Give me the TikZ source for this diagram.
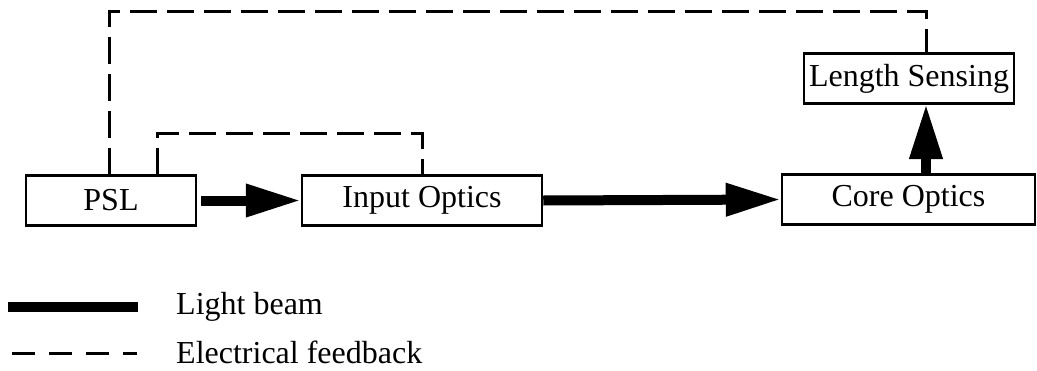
\documentclass[tikz,border=0pt]{standalone}
\usepackage{fontspec}
\setmainfont{Liberation Serif}
\usetikzlibrary{arrows.meta}
\begin{document}
\begin{tikzpicture}[x=1pt,y=-1pt,
  blk/.style={draw,line width=2.5pt,minimum height=50pt,inner sep=0pt,font=\fontsize{32}{36}\selectfont},
  beam/.style={line width=10pt,-{Triangle[length=55pt,width=31pt]}},
  fb/.style={line width=3pt,dash pattern=on 27pt off 10pt},
  lbl/.style={anchor=west,inner sep=0pt,font=\fontsize{32}{36}\selectfont}]
\useasboundingbox (0,0) rectangle (1037,370);
\node[blk,minimum width=170pt] (psl) at (111,200.5) {PSL};
\node[blk,minimum width=240pt] (io) at (422,200.5) {Input Optics};
\node[blk,minimum width=253pt] (co) at (908.5,199.5) {Core Optics};
\node[blk,minimum width=210pt] (ls) at (909,78.5) {Length Sensing};
% light beams
\draw[beam,shorten <=4pt] (psl.east) -- (io.west);
\draw[beam] (io.east) -- (co.west);
\coordinate (upb) at (926,175);
\coordinate (upt) at (926,104);
\draw[beam] (upb) -- (upt);
% electrical feedback
\coordinate (a1) at (109,175);
\coordinate (a2) at (926,53);
\draw[fb] (a1) |- (109,11) -| (a2);
\coordinate (b1) at (157,175);
\coordinate (b2) at (422,176);
\draw[fb] (b1) |- (157,133) -| (b2);
% legend
\coordinate (l1) at (8,307);
\coordinate (l2) at (138,307);
\draw[line width=10pt] (l1) -- (l2);
\node[lbl] (lt1) at (176,307) {Light beam};
\coordinate (d1) at (12,353);
\coordinate (d2) at (137,353);
\draw[line width=3pt,dash pattern=on 23pt off 14pt] (d1) -- (d2);
\node[lbl] (lt2) at (176,352) {Electrical feedback};
\end{tikzpicture}
\end{document}
